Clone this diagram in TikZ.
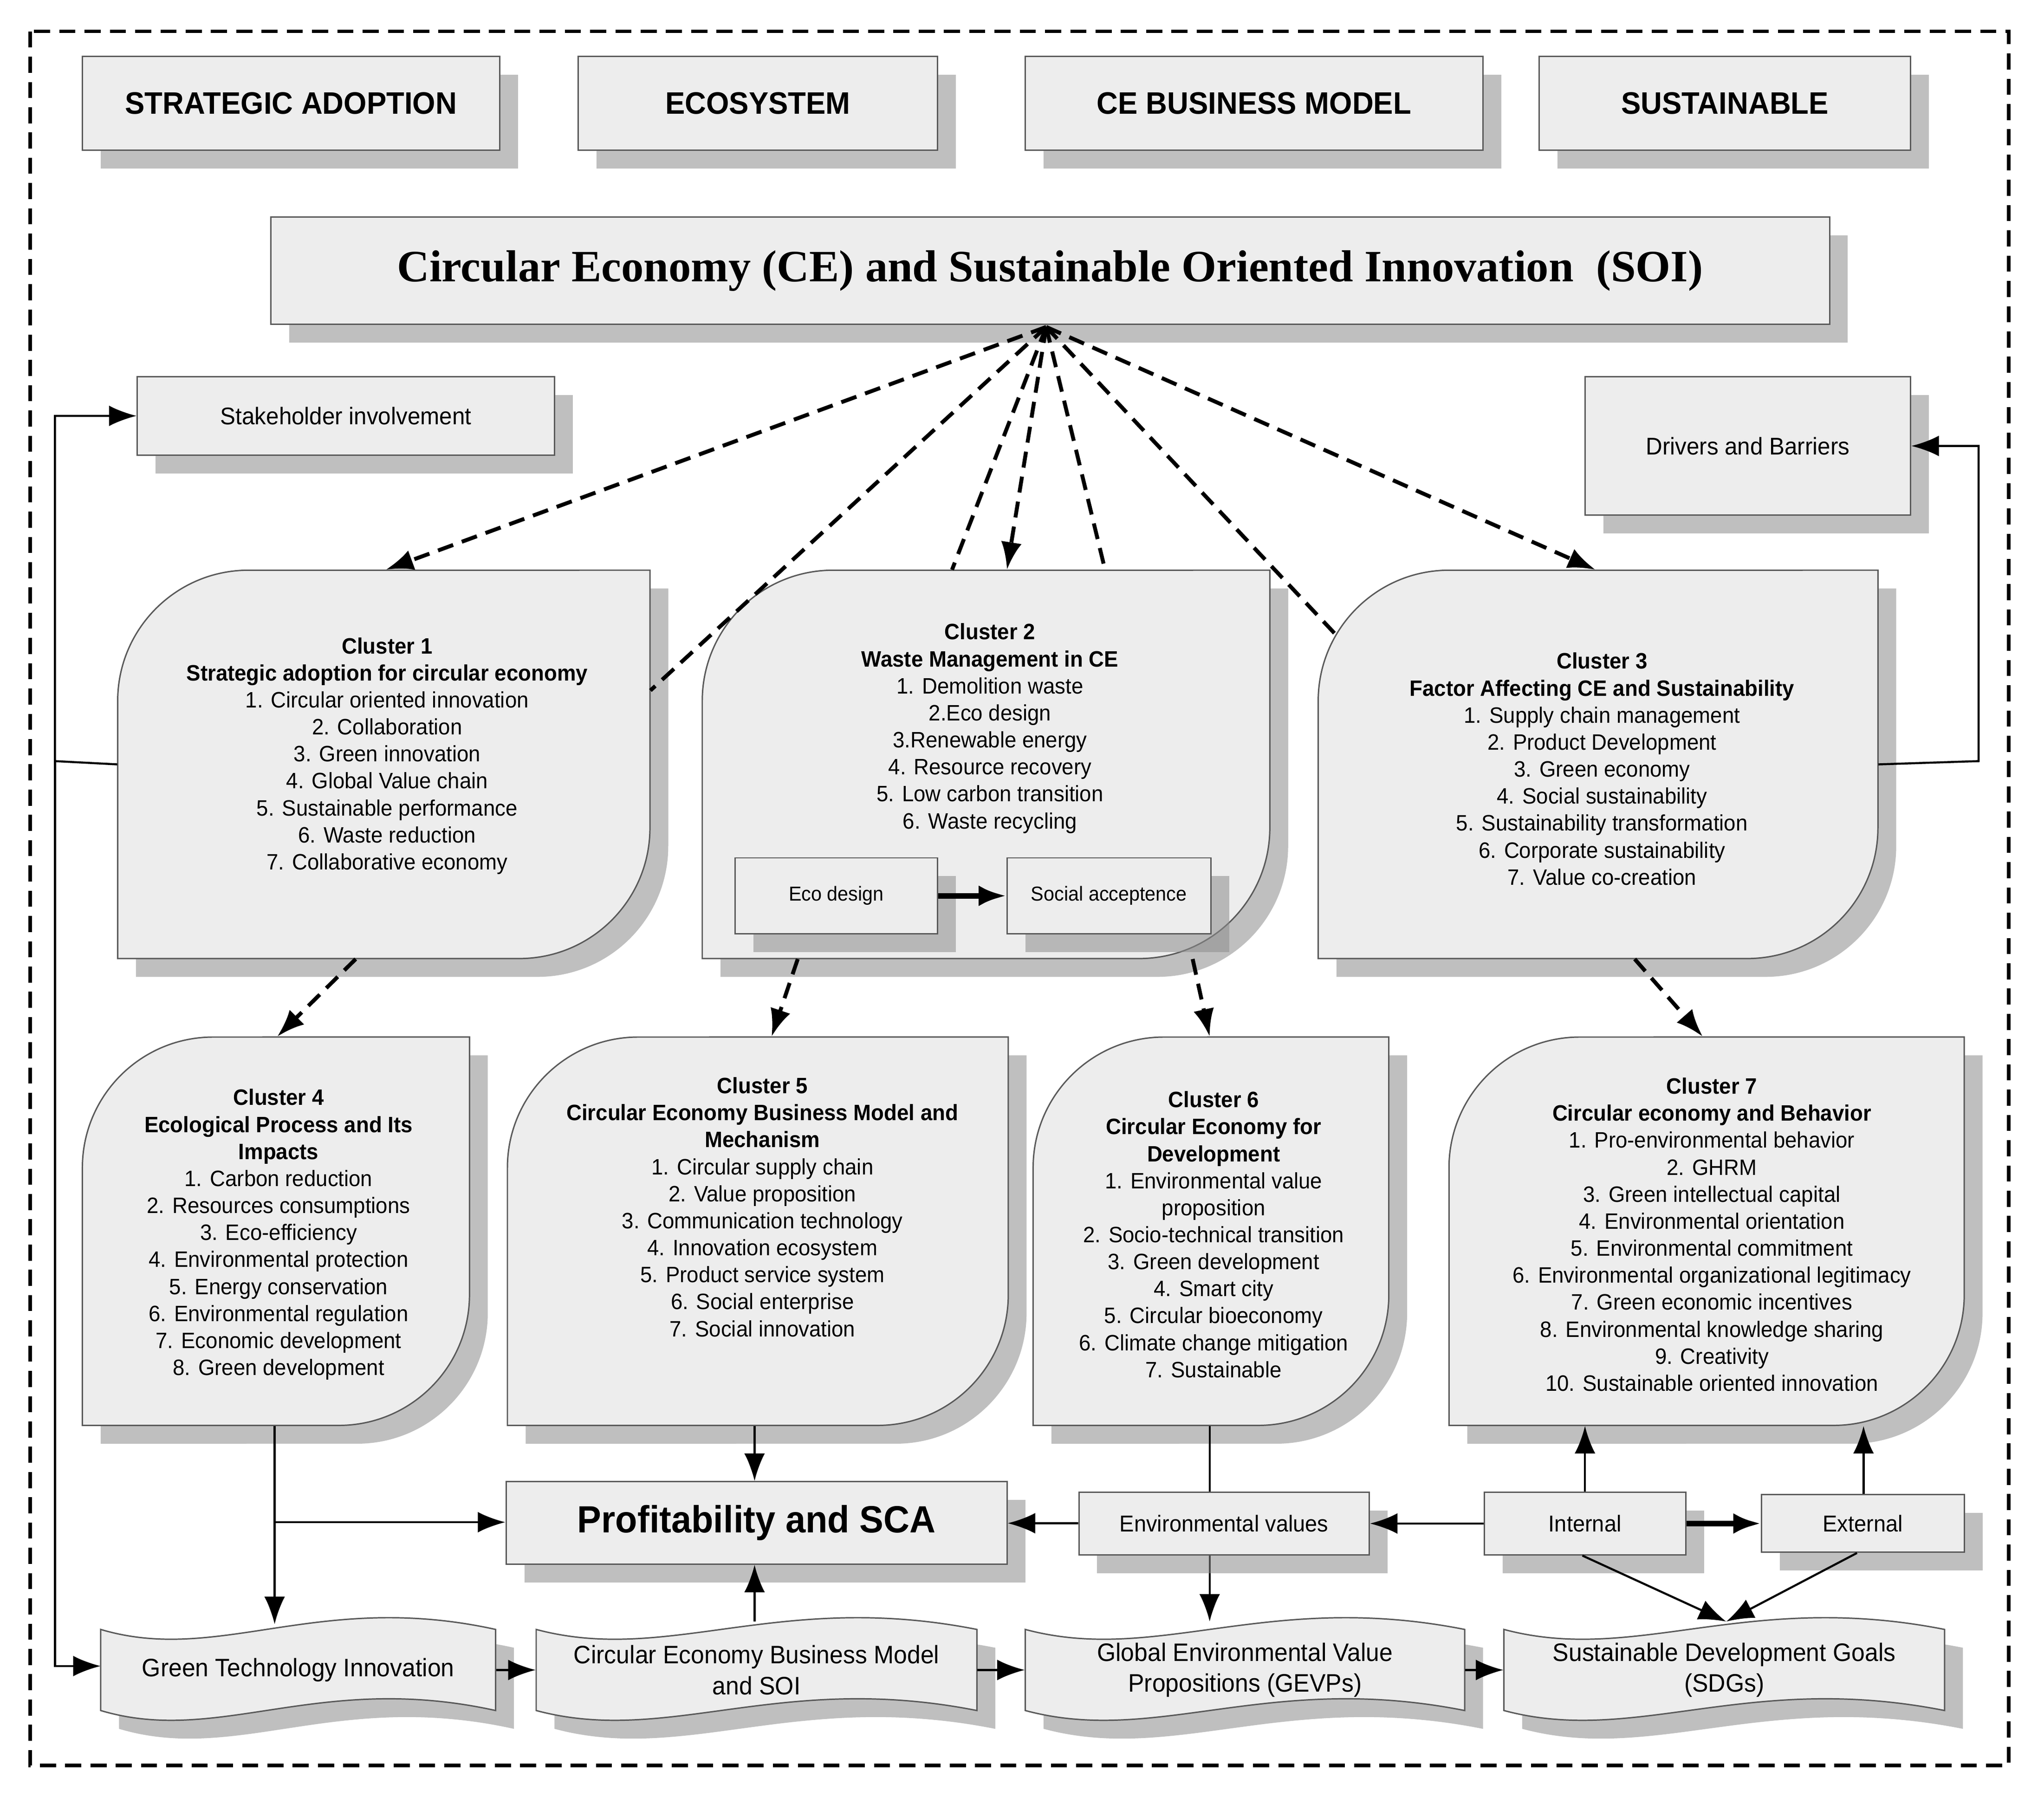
\documentclass[tikz,border=0pt]{standalone}
\usepackage{fontspec}
\setmainfont{Liberation Sans}[FakeStretch=0.95]
\newfontfamily\ttlfont{Liberation Serif}
\usetikzlibrary{shadows,arrows.meta,calc}
\tikzset{
  shd/.style={drop shadow={shadow xshift=0.28cm,shadow yshift=-0.28cm,fill=black!45,opacity=0.55}},
  bxs/.style={draw=black!65,fill=black!7,line width=0.6pt,shd,inner sep=0pt,align=center},
  dsh/.style={line width=1.7pt,dash pattern=on 7pt off 4pt},
  arr/.style={-{Latex[length=12pt,width=9pt]}},
  ln/.style={line width=0.9pt},
  thk/.style={line width=2.4pt},
  ctext/.style={align=center,font=\fontsize{9.7}{11.75}\selectfont},
}
\newcommand\bx[7][]{\node[bxs,minimum width={(#5-#3)*0.02cm},minimum height={(#6-#4)*0.02cm},#1] (#2) at ({(#3+#5)/2},{-(#4+#6)/2}) {#7};}
\newcommand\clus[5]{%
  \path[bxs] (#2,-#5) -- (#2,-#3-100) arc[start angle=180,end angle=90,radius=2cm] -- (#4,-#3) -- (#4,-#5+100) arc[start angle=0,end angle=-90,radius=2cm] -- cycle;
  \node[minimum width={(#4-#2)*0.02cm},minimum height={(#5-#3)*0.02cm},inner sep=0pt] (#1) at ({(#2+#4)/2},{-(#3+#5)/2}) {};}
\newcommand\wav[6]{%
  \path[bxs] (#2,-#3-8) .. controls ({#2+0.3*(#4-#2)},-#3-35) and ({#2+0.55*(#4-#2)},-#3+22) .. (#4,-#3-8)
     -- (#4,-#5+8) .. controls ({#2+0.55*(#4-#2)},-#5+38) and ({#2+0.3*(#4-#2)},-#5-19) .. (#2,-#5+8) -- cycle;
  \node[minimum width={(#4-#2)*0.02cm},minimum height={(#5-#3)*0.02cm},inner sep=0pt,align=center,font=\fontsize{11}{13.5}\selectfont] (#1) at ({(#2+#4)/2},{-(#3+#5)/2}) {#6};}
\begin{document}
\begin{tikzpicture}[x=0.02cm,y=0.02cm]
\useasboundingbox[fill=white] (0,0) rectangle (1563,-1374);
\draw[dsh,line width=1.5pt] (23,-24) rectangle (1536,-1350);

% top boxes
\bx[font=\bfseries\fontsize{13.5}{15}\selectfont]{sa}{63}{43}{382}{115}{STRATEGIC ADOPTION}
\bx[font=\bfseries\fontsize{13.5}{15}\selectfont]{eco}{442}{43}{717}{115}{ECOSYSTEM}
\bx[font=\bfseries\fontsize{13.5}{15}\selectfont]{cebm}{784}{43}{1134}{115}{CE BUSINESS MODEL}
\bx[font=\bfseries\fontsize{13.5}{15}\selectfont]{sus}{1177}{43}{1461}{115}{SUSTAINABLE}
\bx[font=\ttlfont\bfseries\fontsize{19.5}{22}\selectfont]{title}{207}{166}{1399}{248}{Circular Economy (CE) and Sustainable Oriented Innovation\ \ (SOI)}
\coordinate (top) at (800,-250);

\bx[font=\fontsize{10.5}{12}\selectfont]{stake}{105}{288}{424}{348}{Stakeholder involvement}
\bx[font=\fontsize{10.5}{12}\selectfont]{drv}{1212}{288}{1461}{394}{Drivers and Barriers}

% clusters
\clus{c1}{90}{436}{497}{733}
\clus{c2}{537}{436}{971}{733}
\clus{c3}{1008}{436}{1436}{733}
\clus{c4}{63}{793}{359}{1090}
\clus{c5}{388}{793}{771}{1090}
\clus{c6}{790}{793}{1062}{1090}
\clus{c7}{1108}{793}{1502}{1090}

\node[ctext] (t1) at (296,-578) {\textbf{Cluster 1}\\\textbf{Strategic adoption for circular economy}\\1. Circular oriented innovation\\2. Collaboration\\3. Green innovation\\4. Global Value chain\\5. Sustainable performance\\6. Waste reduction\\7. Collaborative economy};
\node[ctext] (t2) at (757,-557) {\textbf{Cluster 2}\\\textbf{Waste Management in CE}\\1. Demolition waste\\2.Eco design\\3.Renewable energy\\4. Resource recovery\\5. Low carbon transition\\6. Waste recycling};
\node[ctext] (t3) at (1225,-588) {\textbf{Cluster 3}\\\textbf{Factor Affecting CE and Sustainability}\\1. Supply chain management\\2. Product Development\\3. Green economy\\4. Social sustainability\\5. Sustainability transformation\\6. Corporate sustainability\\7. Value co-creation};
\node[ctext] (t4) at (213,-944) {\textbf{Cluster 4}\\\textbf{Ecological Process and Its}\\\textbf{Impacts}\\1. Carbon reduction\\2. Resources consumptions\\3. Eco-efficiency\\4. Environmental protection\\5. Energy conservation\\6. Environmental regulation\\7. Economic development\\8. Green development};
\node[ctext] (t5) at (583,-923) {\textbf{Cluster 5}\\\textbf{Circular Economy Business Model and}\\\textbf{Mechanism}\\1. Circular supply chain\\2. Value proposition\\3. Communication technology\\4. Innovation ecosystem\\5. Product service system\\6. Social enterprise\\7. Social innovation};
\node[ctext] (t6) at (928,-944) {\textbf{Cluster 6}\\\textbf{Circular Economy for}\\\textbf{Development}\\1. Environmental value\\proposition\\2. Socio-technical transition\\3. Green development\\4. Smart city\\5. Circular bioeconomy\\6. Climate change mitigation\\7. Sustainable};
\node[ctext] (t7) at (1309,-944) {\textbf{Cluster 7}\\\textbf{Circular economy and Behavior}\\1. Pro-environmental behavior\\2. GHRM\\3. Green intellectual capital\\4. Environmental orientation\\5. Environmental commitment\\6. Environmental organizational legitimacy\\7. Green economic incentives\\8. Environmental knowledge sharing\\9. Creativity\\10. Sustainable oriented innovation};

\bx[font=\fontsize{8.8}{10}\selectfont]{ecod}{562}{656}{717}{714}{Eco design}
\bx[font=\fontsize{8.8}{10}\selectfont]{soc}{770}{656}{926}{714}{Social acceptence}
\draw[thk,arr] (ecod) -- (soc);

% dashed arrows from title
\draw[dsh,arr] (top) -- (c1.north -| 295,0);
\draw[dsh] (top) -- (c1.east |- 0,-528);
\draw[dsh] (top) -- (c2.north -| 728,0);
\draw[dsh,arr] (top) -- (c2.north -| 770,0);
\draw[dsh] (top) -- (c2.north -| 845,0);
\draw[dsh,arr] (top) -- (c3.north -| 1220,0);
\draw[dsh] (top) -- (1024,-488);

% cluster to cluster
\draw[dsh,arr] (c1.south -| 272,0) -- (c4.north -| 212,0);
\draw[dsh,arr] (c2.south -| 610,0) -- (c5.north -| 590,0);
\draw[dsh,arr] (c2.south -| 912,0) -- (c6.north -| 925,0);
\draw[dsh,arr] (c3.south -| 1250,0) -- (c7.north -| 1302,0);

% loops
\draw[ln,arr] (c1.west) -- (42,-582) |- (stake.west);
\draw[ln,arr] (42,-582) |- (42,-1274) -- (77,-1274);
\draw[ln,arr] (c3.east) -- (1513,-582) |- (drv.east);

% bottom
\bx[font=\bfseries\fontsize{16.5}{18}\selectfont]{prof}{387}{1133}{770}{1196}{Profitability and SCA}
\wav{gti}{77}{1238}{379}{1316}{Green Technology Innovation}
\wav{cbs}{410}{1238}{747}{1316}{Circular Economy Business Model\\and SOI}
\wav{gev}{784}{1238}{1120}{1316}{Global Environmental Value\\Propositions (GEVPs)}
\wav{sdg}{1150}{1238}{1487}{1316}{Sustainable Development Goals\\(SDGs)}

\draw[ln,arr] (c6.south -| 925,0) -- (925,-1240);
\bx[font=\fontsize{10}{12}\selectfont]{env}{825}{1141}{1047}{1189}{Environmental values}
\bx[font=\fontsize{10}{12}\selectfont]{int}{1135}{1141}{1289}{1189}{Internal}
\bx[font=\fontsize{10}{12}\selectfont]{ext}{1347}{1143}{1502}{1187}{External}

\draw[ln,arr] (c4.south -| 210,0) -- (210,-1242);
\draw[ln,arr] (210,-1164) -- (prof.west |- 0,-1164);
\draw[ln,arr] (c5.south -| 577,0) -- (prof.north -| 577,0);
\draw[ln,arr] (577,-1240) -- (prof.south -| 577,0);
\draw[ln,arr] (env) -- (prof);
\draw[ln,arr] (int) -- (env);
\draw[thk,arr] (int) -- (ext);
\draw[ln,arr] (int.north -| 1212,0) -- (c7.south -| 1212,0);
\draw[ln,arr] (ext.north -| 1425,0) -- (c7.south -| 1425,0);
\draw[ln,arr] (int.south -| 1210,0) -- (1320,-1240);
\draw[ln,arr] (ext.south -| 1420,0) -- (1320,-1240);

\draw[ln,arr] (gti) -- (cbs);
\draw[ln,arr] (cbs) -- (gev);
\draw[ln,arr] (gev) -- (sdg);
\end{tikzpicture}
\end{document}
